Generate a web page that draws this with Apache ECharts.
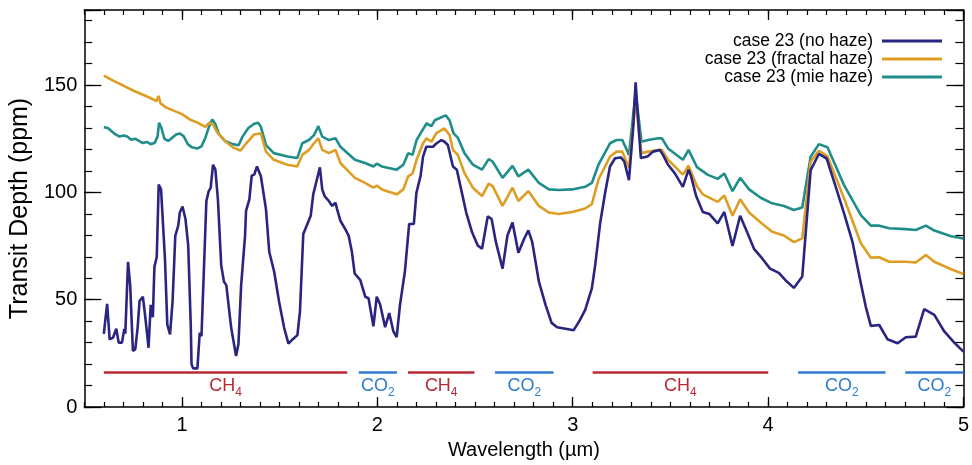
<!DOCTYPE html>
<html>
<head>
<meta charset="utf-8">
<script src="https://cdn.jsdelivr.net/npm/echarts@6/dist/echarts.min.js"></script>
<style>html,body{margin:0;padding:0;background:#fff}#c{width:972px;height:465px}</style>
</head>
<body>
<div id="c"></div>
<script>
// ---------- data ----------
const seriesNames = ['case 23 (no haze)', 'case 23 (fractal haze)', 'case 23 (mie haze)'];

const wlNoHaze = [0.600,0.617,0.630,0.647,0.664,0.676,0.693,0.705,0.710,0.724,0.735,0.749,0.761,0.773,0.783,0.800,0.811,0.829,0.840,0.851,0.859,0.871,0.881,0.893,0.913,0.925,0.939,0.952,0.966,0.981,0.989,1.003,1.018,1.032,1.045,1.049,1.057,1.079,1.091,1.100,1.125,1.137,1.147,1.159,1.171,1.184,1.201,1.215,1.227,1.252,1.277,1.289,1.303,1.323,1.328,1.345,1.357,1.370,1.384,1.404,1.430,1.447,1.472,1.497,1.523,1.545,1.566,1.591,1.604,1.621,1.642,1.659,1.672,1.680,1.706,1.718,1.730,1.752,1.769,1.786,1.794,1.811,1.836,1.853,1.870,1.884,1.913,1.938,1.955,1.980,1.997,2.014,2.040,2.061,2.082,2.099,2.116,2.141,2.163,2.187,2.200,2.221,2.234,2.251,2.285,2.302,2.328,2.344,2.361,2.387,2.407,2.429,2.455,2.485,2.514,2.536,2.565,2.585,2.607,2.641,2.666,2.692,2.722,2.751,2.773,2.793,2.827,2.861,2.892,2.920,2.963,3.005,3.034,3.064,3.098,3.115,3.141,3.166,3.191,3.217,3.247,3.264,3.288,3.310,3.322,3.335,3.349,3.383,3.411,3.446,3.462,3.488,3.522,3.564,3.593,3.606,3.632,3.666,3.700,3.742,3.776,3.818,3.857,3.886,3.928,3.971,4.010,4.055,4.089,4.132,4.175,4.218,4.260,4.300,4.346,4.389,4.432,4.475,4.500,4.526,4.569,4.611,4.663,4.705,4.756,4.799,4.851,4.902,4.953,5.000];
const depthNoHaze = [34.1,48.1,31.5,32.3,36.5,30,30,36.4,34.2,67.6,56.8,26.1,26.9,36.9,49.4,51.4,43,27.6,47.6,41.8,65.3,69.9,103.7,101.4,69.1,38.4,33.8,49.2,79.9,84.5,90.6,93.4,87.6,75.3,38.4,20,18,18,34.6,33,96,100.6,102.1,112.9,110.6,96.8,66,58.4,56.8,36.9,23.8,29.2,56.8,79.9,91.4,96.8,107.8,108.3,112.1,107.5,92.2,72.2,63,49.2,36.9,29.5,31.5,33.5,44.5,80.6,85.3,89.1,99.1,98.3,111.7,101.4,98.3,96,93.7,95.2,92.2,86.8,82.9,79.9,72.2,62.2,59.1,51.4,50.7,37.6,51.4,47.9,37.2,43.8,35.3,32.6,47.6,63,85.3,85.3,99.8,107.5,116.7,121.3,121.3,122.8,124.4,123.6,122.1,112.1,110.6,101.4,90.6,81.4,75.3,73.7,88.8,87.6,76.8,64.5,79.9,86,71.9,78.3,82.3,76.8,58.4,47.6,39.2,37.2,36.5,35.8,40,45.3,55.3,66,86,99.8,112.1,115.9,116.3,114.4,105.7,130.6,151.3,133.6,116,116.7,119,119.8,117.5,112.9,109,102.6,110.6,107.5,98.3,90.9,89.9,85.6,90.9,75,89.1,82.9,73.7,69.1,64.5,62.5,59.1,55.5,60.8,110.4,117.9,115.8,102.7,90.2,77,57.6,46.8,37.8,38.2,31.6,29.7,32.5,32.8,45.6,42.9,35.2,30,25.8];

const wlFractal = [0.600,0.650,0.700,0.750,0.800,0.850,0.870,0.880,0.890,0.920,0.960,1.000,1.040,1.080,1.100,1.120,1.140,1.160,1.180,1.220,1.260,1.300,1.330,1.370,1.404,1.430,1.470,1.540,1.590,1.616,1.650,1.676,1.698,1.718,1.752,1.786,1.811,1.885,1.937,1.980,1.997,2.023,2.099,2.133,2.158,2.180,2.201,2.234,2.252,2.277,2.302,2.344,2.370,2.387,2.412,2.446,2.489,2.536,2.570,2.590,2.641,2.692,2.722,2.773,2.827,2.878,2.929,2.997,3.064,3.098,3.132,3.191,3.225,3.254,3.288,3.322,3.352,3.386,3.437,3.457,3.488,3.564,3.593,3.636,3.666,3.742,3.776,3.818,3.857,3.903,3.962,4.021,4.081,4.132,4.175,4.218,4.260,4.304,4.389,4.475,4.526,4.569,4.620,4.705,4.756,4.808,4.851,4.937,5.000];
const depthFractal = [154.4,152,149.8,147.5,145.5,143.5,142.5,145,141.5,139.5,138,136.5,134,132.5,131.5,130.5,132.5,131.5,128,124,121,119.5,123,127,127.6,119,115.2,112.9,112.1,117.5,119.8,122.9,125.2,119.8,118.3,119.8,113.7,106.8,104.4,102.2,103.2,101.4,99.1,101.4,107.5,108.8,115.2,122.9,125.2,123.6,127.6,129.8,126.7,119.8,117.5,109,102.2,98.3,104.1,102.9,93.7,102.2,96,100.6,93.7,90.6,89.9,90.9,92.5,94.5,106,116.7,119,119,111.4,142.9,118.3,119,119.8,119.8,115.2,108.3,112.4,102.9,99.1,95.6,98.6,89.1,96.8,90.6,86,81.7,79.9,76.8,78.6,114.3,119.4,116.9,97.2,76.3,69.6,69.8,67.7,67.7,67.3,70.8,67.7,64.2,62];

const wlMie = [0.600,0.620,0.640,0.660,0.680,0.700,0.720,0.740,0.760,0.780,0.800,0.820,0.840,0.860,0.875,0.883,0.895,0.910,0.930,0.950,0.970,0.990,1.010,1.030,1.050,1.080,1.100,1.120,1.140,1.155,1.170,1.190,1.220,1.260,1.290,1.310,1.340,1.370,1.390,1.404,1.430,1.470,1.540,1.590,1.616,1.650,1.676,1.698,1.718,1.752,1.786,1.811,1.885,1.937,1.980,1.997,2.023,2.099,2.133,2.158,2.180,2.201,2.221,2.252,2.277,2.294,2.350,2.370,2.390,2.412,2.446,2.489,2.536,2.570,2.590,2.641,2.692,2.722,2.773,2.827,2.878,2.929,2.997,3.064,3.098,3.132,3.191,3.225,3.254,3.288,3.322,3.352,3.386,3.437,3.457,3.488,3.564,3.593,3.636,3.690,3.742,3.776,3.818,3.857,3.903,3.962,4.021,4.081,4.132,4.175,4.218,4.260,4.304,4.389,4.475,4.526,4.569,4.620,4.705,4.756,4.808,4.851,4.937,5.000];
const depthMie = [130.4,130,128.5,127,126,126.5,126,124.5,125,124,123,123.5,122.5,123,126,132.5,130,125,124,125.5,127,127.5,126,122.5,121,120.5,121.5,125.5,131,134,132,127,124,122.5,122,126,130,132,132.5,130.6,122,118.3,116.7,116,122.9,124.4,126.7,130.9,126,124.4,125.2,121.3,115.2,113.7,112.1,113.4,112.1,110.6,112.9,118.3,117.5,124.4,127.5,132.1,130.9,133.6,135.9,133.6,127.5,125.5,118.3,112.9,110.6,115.5,114.4,106.8,112.4,107.5,110.6,104.4,101.4,101.1,101.4,102.6,104.4,112.9,122.9,124.4,124.4,117.5,146.7,123.6,124.4,125.2,125.2,120.5,115.2,119.8,111.8,108.3,106.3,108.8,100.6,106.8,101.4,97.5,94.9,93.7,91.8,93,116.6,122.5,121,103.4,89.4,84.5,84.5,83.3,82.9,82.5,84.5,82.2,79.6,78.5];

// absorption bands
const bandNames = ['CH4','CO2','CH4','CO2','CH4','CO2','CO2'];
const bandStart = [0.60, 1.905, 2.157, 2.602, 3.102, 4.154, 4.702];
const bandEnd   = [1.846, 2.101, 2.497, 2.902, 4.001, 4.601, 5.00];
const bandLevel = 16;

// tick labels
const xTickLabels = [1, 2, 3, 4, 5];
const yTickLabels = [0, 50, 100, 150];

// ---------- chart ----------
const FONT = '"Liberation Sans", Arial, Helvetica, sans-serif';
const colors = ['#2a2580', '#de9e24', '#1f8d89'];
const bandColor = { CH4: '#b82a33', CO2: '#2e7cd0' };
const zip = (a, b) => a.map((v, i) => [v, b[i]]);

const XMIN = 0.5, XMAX = 5, YMIN = 0, YMAX = 185;
const isInt = v => Math.abs(v - Math.round(v)) < 1e-6;

function xAxisDef(pos, major, showLabel) {
  return {
    type: 'value', position: pos, min: XMIN, max: XMAX,
    interval: 0.1,
    axisLine: { show: !major, onZero: false, lineStyle: { color: '#000', width: 1.5 } },
    axisTick: major
      ? { show: true, inside: true, length: 10, customValues: xTickLabels, lineStyle: { color: '#000', width: 1.3 } }
      : { show: true, inside: true, length: 5, lineStyle: { color: '#000', width: 1.2 } },
    axisLabel: showLabel ? {
      show: true, interval: 0, margin: 8, color: '#000', fontSize: 20, fontFamily: FONT,
      formatter: v => (isInt(v) && xTickLabels.indexOf(Math.round(v)) >= 0) ? String(Math.round(v)) : ''
    } : { show: false },
    splitLine: { show: false }
  };
}
function yAxisDef(pos, major, showLabel) {
  return {
    type: 'value', position: pos, min: YMIN, max: YMAX,
    interval: major ? 50 : 10,
    axisLine: { show: !major, onZero: false, lineStyle: { color: '#000', width: 1.5 } },
    axisTick: major
      ? { show: true, inside: true, length: 17, lineStyle: { color: '#000', width: 1.3 } }
      : { show: true, inside: true, length: 8, lineStyle: { color: '#000', width: 1.2 } },
    axisLabel: showLabel ? {
      show: true, margin: 7, color: '#000', fontSize: 20, fontFamily: FONT,
      formatter: v => yTickLabels.indexOf(v) >= 0 ? String(v) : ''
    } : { show: false },
    splitLine: { show: false }
  };
}

const xAxes = [xAxisDef('bottom', false, true), xAxisDef('bottom', true, false), xAxisDef('top', false, false), xAxisDef('top', true, false)];
xAxes[0].name = 'Wavelength (µm)';
xAxes[0].nameLocation = 'middle';
xAxes[0].nameGap = 33;
xAxes[0].nameTextStyle = { color: '#000', fontSize: 20, fontFamily: FONT };
const yAxes = [yAxisDef('left', false, true), yAxisDef('left', true, false), yAxisDef('right', false, false), yAxisDef('right', true, false)];
yAxes[0].name = 'Transit Depth (ppm)';
yAxes[0].nameLocation = 'middle';
yAxes[0].nameGap = 50;
yAxes[0].nameTextStyle = { color: '#000', fontSize: 25, fontFamily: FONT };

const bandLines = bandNames.map((n, i) => [
  { name: n, coord: [bandStart[i], bandLevel], lineStyle: { color: bandColor[n] } },
  { coord: [bandEnd[i], bandLevel] }
]);

const lineSeries = [zip(wlNoHaze, depthNoHaze), zip(wlFractal, depthFractal), zip(wlMie, depthMie)].map((d, i) => ({
  name: seriesNames[i], type: 'line', data: d, showSymbol: false, symbol: 'none',
  lineStyle: { color: colors[i], width: 2.6 }, itemStyle: { color: colors[i] },
  z: 3 - i, silent: true
}));

const option = {
  animation: false,
  backgroundColor: '#fff',
  grid: { left: 82, right: 6, top: 10, bottom: 55, containLabel: false },
  xAxis: xAxes,
  yAxis: yAxes,
  legend: {
    data: seriesNames, orient: 'vertical', right: 25, top: 27, align: 'right',
    icon: 'rect', itemWidth: 60, itemHeight: 3, itemGap: 0, selectedMode: false,
    textStyle: { color: '#000', fontSize: 17.5, lineHeight: 16.5, fontFamily: FONT, padding: [0, 4, 0, 0] }
  },
  series: lineSeries.concat([{
    name: 'bands', type: 'line', data: [], silent: true,
    markLine: {
      silent: true, symbol: ['none', 'none'], animation: false,
      lineStyle: { type: 'solid', width: 2.6 },
      label: {
        show: true, position: 'insideMiddleBottom', distance: 4,
        formatter: p => p.name === 'CH4' ? '{rm|CH}{rs|4}' : '{bm|CO}{bs|2}',
        rich: {
          rm: { color: bandColor.CH4, fontSize: 18, fontFamily: FONT, lineHeight: 22, verticalAlign: 'top' },
          rs: { color: bandColor.CH4, fontSize: 12, fontFamily: FONT, lineHeight: 22, verticalAlign: 'bottom' },
          bm: { color: bandColor.CO2, fontSize: 18, fontFamily: FONT, lineHeight: 22, verticalAlign: 'top' },
          bs: { color: bandColor.CO2, fontSize: 12, fontFamily: FONT, lineHeight: 22, verticalAlign: 'bottom' }
        }
      },
      data: bandLines
    }
  }])
};

const chart = echarts.init(document.getElementById('c'), null, { renderer: 'canvas' });
chart.setOption(option);
</script>
</body>
</html>
